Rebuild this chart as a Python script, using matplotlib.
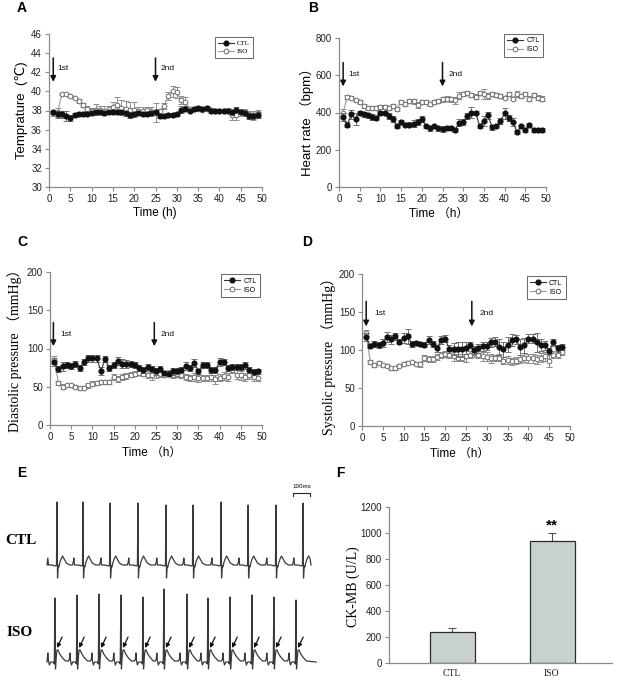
import numpy as np
import matplotlib
matplotlib.use("Agg")
import matplotlib.pyplot as plt

W, H = 628, 685
SANS = ['Liberation Sans', 'DejaVu Sans', 'Noto Sans CJK SC']
SERIF = ['Liberation Serif', 'DejaVu Serif', 'Noto Sans CJK SC']
plt.rcParams['font.family'] = SANS

# ---------------- data ----------------
hours = list(range(1, 50))
hours_d = list(range(1, 49))

temp_ctl = [37.8, 37.6, 37.6, 37.4, 37.2, 37.5, 37.6, 37.6, 37.6, 37.7,
            37.8, 37.8, 37.7, 37.8, 37.8, 37.8, 37.8, 37.7, 37.5, 37.6,
            37.7, 37.6, 37.6, 37.7, 37.8, 37.4, 37.4, 37.5, 37.5, 37.6,
            38.1, 38.2, 38.0, 38.2, 38.3, 38.2, 38.3, 37.9, 37.9, 38.0,
            38.0, 38.0, 37.8, 38.1, 37.8, 37.7, 37.4, 37.4, 37.5]
temp_ctl_err = [0.2, 0.4, 0.4, 0.5, 0.3, 0.2, 0.2, 0.2, 0.2, 0.2,
                0.2, 0.2, 0.2, 0.2, 0.2, 0.2, 0.2, 0.3, 0.3, 0.2,
                0.2, 0.2, 0.2, 0.2, 0.3, 0.2, 0.2, 0.2, 0.2, 0.2,
                0.4, 0.3, 0.2, 0.2, 0.2, 0.2, 0.2, 0.2, 0.2, 0.2,
                0.2, 0.2, 0.3, 0.3, 0.2, 0.2, 0.3, 0.3, 0.3]
temp_iso = [37.7, 37.8, 39.7, 39.7, 39.5, 39.3, 39.0, 38.6, 38.2, 38.0,
            38.1, 38.1, 38.0, 38.2, 38.4, 38.6, 38.3, 38.2, 38.1, 38.1,
            38.0, 38.0, 38.1, 37.9, 37.8, 37.9, 38.5, 39.5, 40.0, 39.9,
            39.1, 38.9, 38.2, 38.2, 38.2, 38.1, 38.2, 38.1, 38.0, 38.0,
            38.0, 38.0, 37.5, 37.5, 37.8, 37.8, 37.6, 37.5, 37.7]
temp_iso_err = [0.3, 0.5, 0.1, 0.1, 0.1, 0.1, 0.2, 0.2, 0.3, 0.3,
                0.6, 0.4, 0.5, 0.3, 0.5, 0.8, 0.8, 0.8, 0.8, 0.8,
                0.4, 0.4, 0.3, 0.5, 1.0, 0.3, 0.3, 0.4, 0.6, 0.6,
                0.4, 0.5, 0.2, 0.2, 0.2, 0.2, 0.2, 0.2, 0.2, 0.2,
                0.2, 0.3, 0.5, 0.5, 0.4, 0.4, 0.4, 0.5, 0.4]

hr_ctl = [375, 335, 390, 365, 400, 390, 385, 375, 370, 400,
          395, 380, 365, 325, 350, 335, 335, 340, 350, 365,
          325, 315, 325, 315, 310, 315, 315, 305, 345, 350,
          380, 400, 400, 325, 355, 385, 320, 325, 355, 395,
          370, 350, 295, 325, 305, 335, 305, 305, 305]
hr_ctl_err = [20, 15, 25, 30, 10, 15, 15, 15, 10, 10,
              10, 15, 15, 10, 10, 10, 15, 20, 15, 15,
              10, 15, 10, 15, 15, 10, 10, 10, 20, 15,
              15, 30, 10, 10, 25, 20, 15, 10, 15, 30,
              15, 20, 10, 10, 10, 10, 10, 10, 10]
hr_iso = [400, 485, 480, 465, 455, 435, 425, 425, 425, 430,
          430, 425, 435, 420, 455, 445, 460, 460, 440, 455,
          455, 445, 455, 460, 470, 475, 470, 465, 490, 500,
          505, 495, 485, 505, 500, 490, 500, 495, 490, 480,
          500, 475, 500, 490, 500, 475, 495, 480, 475]
hr_iso_err = [20, 10, 10, 10, 10, 10, 10, 10, 10, 10,
              10, 10, 10, 10, 10, 10, 10, 15, 15, 10,
              10, 10, 10, 10, 15, 15, 15, 20, 20, 10,
              10, 10, 15, 10, 25, 15, 10, 10, 10, 10,
              10, 10, 15, 10, 10, 15, 10, 15, 15]

dia_ctl = [82, 73, 77, 79, 77, 80, 75, 82, 87, 87,
           87, 71, 86, 74, 78, 84, 80, 80, 80, 78,
           75, 72, 76, 73, 70, 73, 68, 67, 70, 71,
           72, 77, 74, 81, 70, 79, 79, 72, 72, 82,
           82, 74, 76, 76, 76, 78, 72, 69, 70]
dia_ctl_err = [5, 4, 6, 4, 4, 4, 4, 4, 4, 4,
               5, 5, 4, 4, 4, 5, 6, 5, 4, 4,
               4, 4, 4, 4, 4, 4, 3, 3, 4, 4,
               4, 5, 4, 5, 3, 4, 4, 4, 4, 5,
               4, 4, 4, 4, 4, 5, 4, 4, 3]
dia_iso = [85, 55, 50, 52, 52, 50, 48, 49, 52, 54,
           55, 56, 56, 56, 63, 60, 63, 64, 66, 67,
           68, 67, 66, 65, 68, 67, 66, 68, 66, 67,
           65, 63, 62, 63, 61, 62, 62, 63, 60, 62,
           64, 63, 72, 66, 65, 63, 65, 63, 62]
dia_iso_err = [5, 3, 3, 2, 2, 2, 2, 2, 3, 3,
               3, 3, 3, 3, 4, 4, 4, 4, 3, 3,
               3, 3, 4, 6, 6, 4, 3, 4, 4, 4,
               4, 4, 4, 5, 5, 4, 4, 5, 6, 5,
               5, 5, 4, 6, 6, 5, 5, 5, 5]

sys_ctl = [117, 105, 108, 107, 109, 117, 114, 118, 111, 116,
           118, 108, 109, 108, 107, 113, 108, 102, 113, 115,
           101, 101, 101, 101, 103, 106, 100, 102, 105, 105,
           110, 111, 104, 101, 107, 113, 114, 104, 106, 115,
           115, 110, 107, 106, 99, 110, 102, 104]
sys_ctl_err = [5, 3, 4, 4, 5, 7, 6, 5, 3, 7,
               10, 4, 3, 3, 3, 5, 4, 4, 5, 5,
               5, 8, 10, 10, 8, 4, 5, 6, 6, 5,
               6, 6, 10, 10, 10, 8, 6, 10, 10, 6,
               6, 12, 8, 6, 4, 5, 5, 4]
sys_iso = [122, 84, 80, 83, 80, 79, 76, 76, 79, 82,
           83, 84, 82, 81, 90, 88, 88, 91, 93, 95,
           94, 92, 90, 90, 92, 94, 96, 94, 92, 91,
           89, 90, 90, 86, 87, 85, 86, 88, 90, 89,
           89, 88, 90, 92, 85, 94, 94, 98]
sys_iso_err = [4, 3, 3, 2, 2, 2, 2, 2, 2, 2,
               2, 2, 2, 3, 4, 4, 4, 4, 4, 4,
               5, 6, 5, 5, 8, 5, 5, 5, 6, 6,
               6, 4, 5, 5, 5, 5, 5, 5, 6, 6,
               6, 6, 6, 6, 8, 5, 5, 5]

# ECG: R-peak times (ms), R amplitudes, and beat templates (dt ms, amplitude)
ecg_ctl_r_times = [100, 253, 412, 576, 741, 900, 1065, 1224, 1388, 1547]
ecg_ctl_r_amp = [63, 63, 62, 62, 60, 60, 63, 60, 60, 62]
ecg_ctl_tmpl_t = [-74, -62, -57, -54, -50, -30, -8, -3, 0, 3, 7, 11, 16, 24, 33, 42, 55, 74]
ecg_ctl_tmpl_v = [0, 0, 3, 7, 0, 0, -1, 0, 0, -13, -1, -2, 2, 6, 9, 6, 2, 0]
ecg_iso_r_times = [88, 218, 347, 476, 606, 729, 865, 988, 1118, 1247, 1376, 1506]
ecg_iso_r_amp = [64, 67, 68, 67, 65, 73, 68, 64, 65, 67, 65, 62]
ecg_iso_tmpl_t = [-62, -50, -45, -42, -38, -33, -25, -10, -4, 0, 3, 7, 12, 18, 28, 40, 50, 62]
ecg_iso_tmpl_v = [1, 1, 3, 9, 1, -3, 0, 0, -2, 0, -7, 4, 12, 12, 8, 5, 3, 1]

ck_groups = ['CTL', 'ISO']
ck_values = [240, 935]
ck_err = [30, 65]

# ---------------- figure ----------------
fig = plt.figure(figsize=(W / 100, H / 100), dpi=100)


def add_ax(l, t, r, b):
    return fig.add_axes([l / W, 1 - b / H, (r - l) / W, (b - t) / H])


def ftext(x, y, s, **kw):
    fig.text(x / W, 1 - y / H, s, **kw)


def style_ax(ax):
    for s in ['top', 'right']:
        ax.spines[s].set_visible(False)
    for s in ['left', 'bottom']:
        ax.spines[s].set_color('#8a8a8a')
        ax.spines[s].set_linewidth(0.9)
    ax.tick_params(direction='out', length=3, width=0.8, color='#8a8a8a',
                   labelsize=7, pad=2, labelcolor='#222222')


def ts_panel(ax, x, ctl, ctl_e, iso, iso_e, ylim, yticks, legend_font, leg_anchor):
    ax.errorbar(x, iso, yerr=iso_e, color='#9a9a9a', lw=0.8, ecolor='#8f8f8f',
                elinewidth=0.7, capsize=2.0, capthick=0.7, marker='o', ms=3.4,
                mfc='white', mec='#6a6a6a', mew=0.7, label='ISO', zorder=3)
    ax.errorbar(x, ctl, yerr=ctl_e, color='#333333', lw=0.8, ecolor='#707070',
                elinewidth=0.7, capsize=2.0, capthick=0.7, marker='o', ms=3.4,
                mfc='#111111', mec='#111111', label='CTL', zorder=4)
    ax.set_xlim(0, 50)
    ax.set_xticks(range(0, 51, 5))
    ax.set_ylim(*ylim)
    ax.set_yticks(yticks)
    style_ax(ax)
    h, lab = ax.get_legend_handles_labels()
    h = [hh[0] for hh in h]
    leg = ax.legend(h[::-1], lab[::-1], loc='upper right', bbox_to_anchor=leg_anchor,
                    prop={'family': legend_font, 'size': 5}, frameon=True,
                    fancybox=False, edgecolor='#222222', handlelength=2.2,
                    borderpad=0.5, labelspacing=0.3, handletextpad=0.5, borderaxespad=0)
    leg.get_frame().set_linewidth(0.6)


def dose_arrow(ax, x, ytop, ybot, label, tx, ty):
    ax.annotate('', xy=(x, ybot), xytext=(x, ytop),
                arrowprops=dict(arrowstyle='-|>', color='#111111', lw=1.1,
                                mutation_scale=8, shrinkA=0, shrinkB=0))
    ax.text(tx, ty, label, fontsize=6, color='#111111', va='center', ha='left')


# Panel A
axA = add_ax(49, 34, 262, 187)
ts_panel(axA, hours, temp_ctl, temp_ctl_err, temp_iso, temp_iso_err,
         (30, 46), range(30, 47, 2), SERIF, (0.96, 0.98))
dose_arrow(axA, 1, 43.5, 41.0, '1st', 2.0, 42.4)
dose_arrow(axA, 25, 43.5, 41.0, '2nd', 26.2, 42.4)
ftext(22, 110, 'Temprature  (℃)', rotation=90, fontsize=9.5, ha='center', va='center')
ftext(155, 213, 'Time (h)', fontsize=8.5, ha='center', va='center')

# Panel B
axB = add_ax(339, 38, 546, 187)
ts_panel(axB, hours, hr_ctl, hr_ctl_err, hr_iso, hr_iso_err,
         (0, 800), range(0, 801, 200), SANS, (0.985, 1.03))
dose_arrow(axB, 1, 668, 540, '1st', 2.2, 602)
dose_arrow(axB, 25, 668, 540, '2nd', 26.4, 602)
ftext(307, 119, 'Heart rate （bpm）', rotation=90, fontsize=9.5, ha='center', va='center')
ftext(439, 214, 'Time （h）', fontsize=8.5, ha='center', va='center')

# Panel C
axC = add_ax(50, 272, 262, 425)
ts_panel(axC, hours, dia_ctl, dia_ctl_err, dia_iso, dia_iso_err,
         (0, 200), range(0, 201, 50), SANS, (0.99, 0.985))
dose_arrow(axC, 0.8, 134, 103, '1st', 2.5, 118)
dose_arrow(axC, 24.6, 134, 103, '2nd', 26.2, 118)
ftext(15, 347, 'Diastolic pressure （mmHg）', rotation=90, fontsize=10, ha='center',
      va='center', family=SERIF)
ftext(152, 453, 'Time （h）', fontsize=8.5, ha='center', va='center')

# Panel D
axD = add_ax(362, 274, 570, 426)
ts_panel(axD, hours_d, sys_ctl, sys_ctl_err, sys_iso, sys_iso_err,
         (0, 200), range(0, 201, 50), SANS, (0.98, 0.985))
dose_arrow(axD, 1, 164, 131, '1st', 2.9, 148)
dose_arrow(axD, 26.4, 164, 131, '2nd', 28.2, 148)
ftext(329, 353, 'Systolic pressure （mmHg）', rotation=90, fontsize=10, ha='center',
      va='center', family=SERIF)
ftext(460, 454, 'Time （h）', fontsize=8.5, ha='center', va='center')

# Panel E: ECG traces
axE = add_ax(40, 480, 320, 680)
ms_per_px = 100 / 17.0
axE.set_xlim(0, 280 * ms_per_px)
axE.set_ylim(0, 200)
axE.axis('off')


def build_trace(r_times, r_amp, tt, tv, base, t0, t1):
    ts, vs = [t0], [base]
    for rt, ra in zip(r_times, r_amp):
        for dt, v in zip(tt, tv):
            t = rt + dt
            if t0 < t < t1:
                ts.append(t)
                vs.append(base + (ra if dt == 0 else v))
    ts.append(t1)
    vs.append(base)
    order = np.argsort(ts, kind='stable')
    return np.array(ts)[order], np.array(vs)[order]


ctl_base, iso_base = 115, 18
tx, ty = build_trace(ecg_ctl_r_times, ecg_ctl_r_amp, ecg_ctl_tmpl_t, ecg_ctl_tmpl_v,
                     ctl_base, 41, 1594)
axE.plot(tx, ty, color='#3a3a3a', lw=0.9)
tx, ty = build_trace(ecg_iso_r_times, ecg_iso_r_amp, ecg_iso_tmpl_t, ecg_iso_tmpl_v,
                     iso_base, 41, 1624)
axE.plot(tx, ty, color='#3a3a3a', lw=0.9)
for rt in ecg_iso_r_times:
    axE.annotate('', xy=(rt + 12, iso_base + 14), xytext=(rt + 42, iso_base + 25),
                 arrowprops=dict(arrowstyle='-|>', color='#111111', lw=0.9,
                                 mutation_scale=6, shrinkA=0, shrinkB=0))
# 100 ms scale bar
sb_t0 = (293 - 40) * ms_per_px
axE.plot([sb_t0, sb_t0, sb_t0 + 100, sb_t0 + 100], [184, 187, 187, 184],
         color='#222222', lw=0.8)
axE.text(sb_t0 + 50, 191, '100ms', fontsize=4.5, ha='center', va='bottom')
ftext(21, 540, 'CTL', fontsize=11, fontweight='bold', family=SERIF, ha='center', va='center')
ftext(20, 633, 'ISO', fontsize=11, fontweight='bold', family=SERIF, ha='center', va='center')

# Panel F: CK-MB bars
axF = add_ax(389, 507, 612, 663)
xpos = np.arange(len(ck_groups))
axF.bar(xpos, ck_values, width=0.45, color='#c7d2ce', edgecolor='#2a2a2a', lw=0.9,
        zorder=2)
axF.errorbar(xpos, ck_values, yerr=[[0, 0], ck_err], fmt='none', ecolor='#555555',
             elinewidth=0.8, capsize=3, capthick=0.8, zorder=1)
axF.set_xlim(-0.63, 1.6)
axF.set_ylim(0, 1200)
axF.set_yticks(range(0, 1201, 200))
axF.set_xticks(xpos)
axF.set_xticklabels(ck_groups, family=SERIF, fontsize=8.5)
style_ax(axF)
axF.tick_params(axis='x', length=0, pad=4)
axF.text(1, ck_values[1] + ck_err[1] + 5, '**', ha='center', va='bottom', fontsize=11,
         fontweight='bold')
ftext(353, 587, 'CK-MB (U/L)', rotation=90, fontsize=10, ha='center', va='center',
      family=SERIF)

# Panel letters
for lab, (x, y) in {'A': (22, 8), 'B': (313, 8), 'C': (22, 242), 'D': (307, 242),
                    'E': (22, 473), 'F': (340, 473)}.items():
    ftext(x, y, lab, fontsize=10, fontweight='bold', ha='center', va='center')

fig.savefig('out.png', dpi=100, facecolor='white')
